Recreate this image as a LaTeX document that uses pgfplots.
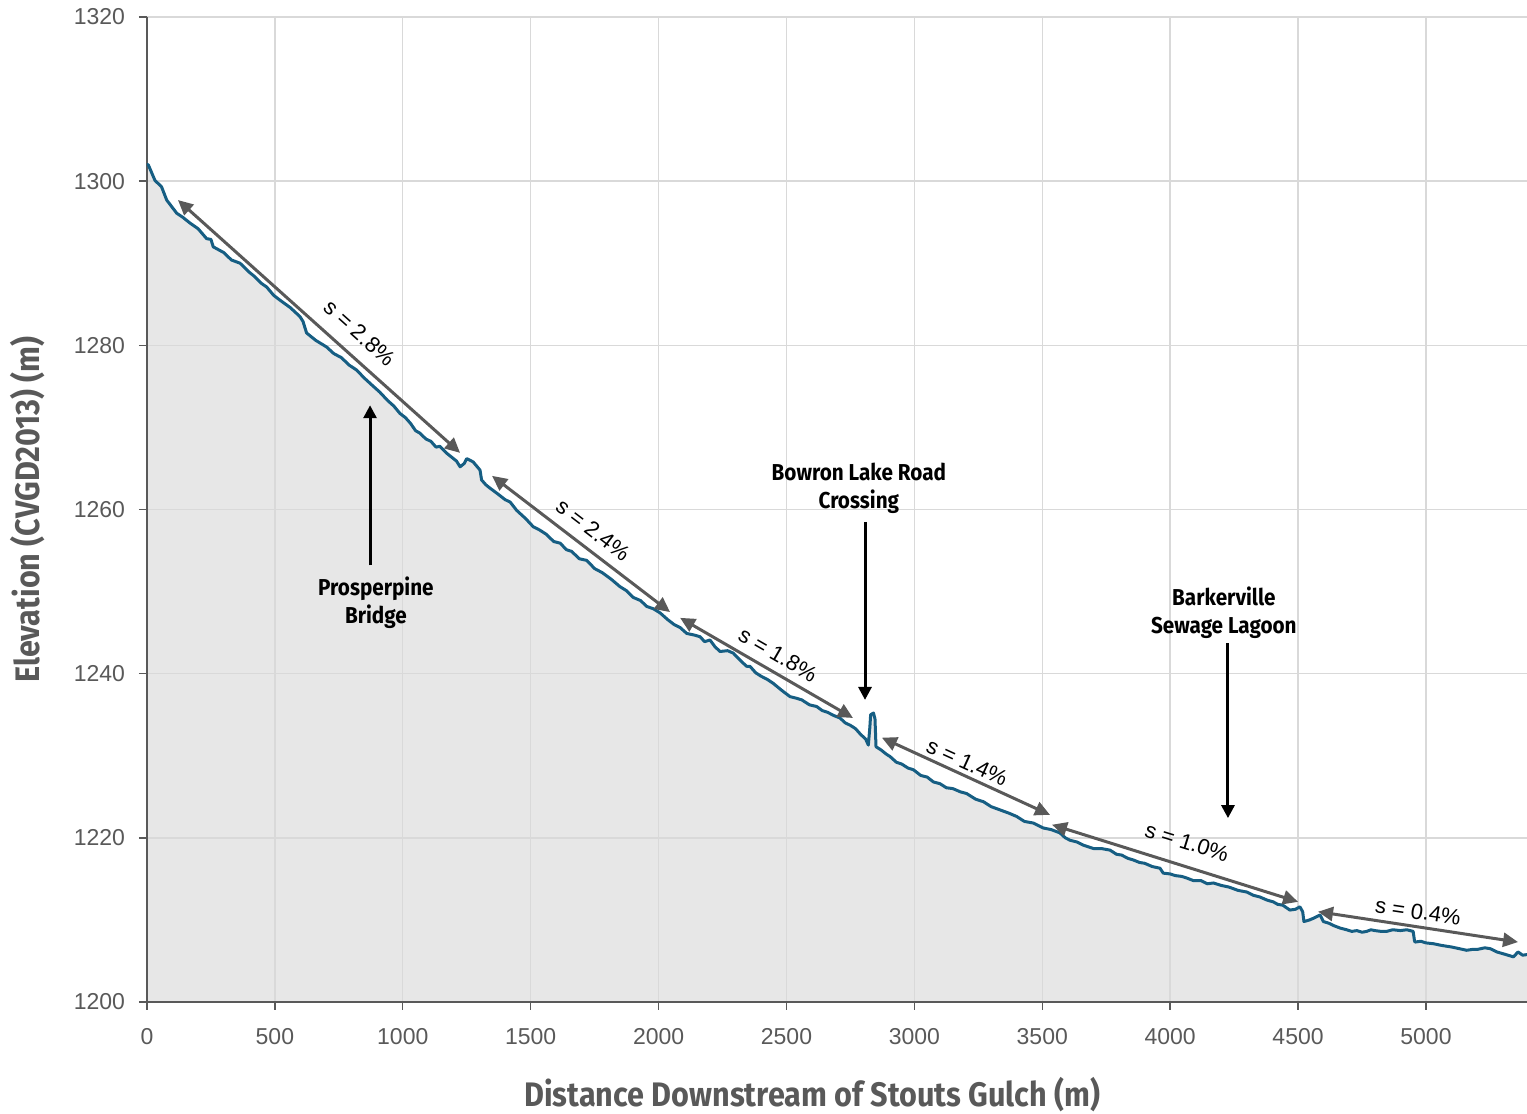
\documentclass[border=0pt]{standalone}
\usepackage{fontspec}
\setmainfont{Liberation Sans}
\newfontfamily\labfont[FakeStretch=0.9]{Fira Sans}
\usepackage{pgfplots}
\usepackage{pgfplotstable}
\pgfplotsset{compat=1.18}
\usetikzlibrary{arrows.meta}
\definecolor{profile}{RGB}{22,94,131}
\definecolor{fillg}{RGB}{231,231,231}
\definecolor{gridg}{RGB}{217,217,217}
\definecolor{txtg}{RGB}{89,89,89}
\definecolor{arrg}{RGB}{89,89,89}

\pgfplotstableread{
x y
0 1302.0
5 1302.0
31 1300.1
57 1299.3
77 1297.7
116 1296.1
140 1295.6
168 1294.9
200 1294.2
233 1293.0
250 1292.9
259 1292.0
300 1291.3
330 1290.4
364 1290.0
400 1288.9
420 1288.4
445 1287.6
468 1287.1
495 1286.1
520 1285.5
560 1284.6
598 1283.5
610 1282.9
624 1281.5
660 1280.6
702 1279.8
730 1279.0
760 1278.5
790 1277.6
819 1277.0
850 1276.0
885 1275.0
910 1274.3
940 1273.3
965 1272.6
989 1271.7
1010 1271.2
1030 1270.5
1050 1269.6
1067 1269.3
1090 1268.6
1110 1268.3
1130 1267.6
1145 1267.7
1170 1266.9
1190 1266.4
1210 1265.9
1224 1265.2
1240 1265.6
1250 1266.2
1275 1265.8
1302 1264.8
1308 1263.6
1325 1263.0
1341 1262.6
1367 1262.0
1400 1261.2
1420 1260.9
1445 1259.9
1480 1258.9
1510 1257.9
1535 1257.5
1560 1257.0
1590 1256.1
1615 1255.9
1640 1255.1
1660 1254.9
1690 1254.0
1719 1253.8
1750 1252.8
1780 1252.3
1815 1251.5
1849 1250.6
1875 1250.1
1900 1249.3
1930 1248.9
1953 1248.2
1980 1247.9
2006 1247.4
2035 1246.6
2060 1246.0
2085 1245.6
2110 1244.9
2140 1244.7
2162 1244.5
2180 1243.9
2201 1244.1
2220 1243.3
2240 1242.7
2270 1242.8
2292 1242.5
2320 1241.6
2344 1240.9
2357 1240.9
2380 1240.1
2400 1239.7
2425 1239.3
2449 1238.8
2480 1238.0
2514 1237.2
2540 1237.0
2560 1236.8
2590 1236.2
2618 1236.0
2640 1235.5
2660 1235.3
2685 1234.9
2709 1234.6
2730 1234.0
2750 1233.7
2770 1233.3
2787 1232.7
2810 1232.0
2820 1231.3
2826 1233.5
2829 1235.0
2840 1235.2
2846 1234.5
2850 1231.1
2870 1230.7
2890 1230.2
2905 1229.9
2930 1229.2
2950 1229.0
2975 1228.5
2996 1228.3
3025 1227.6
3050 1227.4
3075 1226.8
3100 1226.6
3125 1226.1
3150 1226.0
3180 1225.6
3204 1225.4
3240 1224.7
3270 1224.4
3300 1223.8
3335 1223.4
3370 1223.0
3400 1222.6
3430 1222.0
3465 1221.8
3504 1221.2
3535 1221.0
3569 1220.6
3590 1220.0
3609 1219.7
3635 1219.5
3661 1219.1
3700 1218.7
3730 1218.7
3765 1218.5
3790 1218.0
3810 1217.9
3835 1217.5
3856 1217.3
3880 1217.0
3900 1216.9
3930 1216.5
3960 1216.3
3973 1215.7
4000 1215.6
4020 1215.4
4045 1215.3
4065 1215.1
4090 1214.8
4120 1214.8
4145 1214.4
4169 1214.5
4200 1214.2
4230 1214.0
4265 1213.6
4299 1213.4
4325 1213.0
4350 1212.8
4380 1212.4
4403 1212.2
4420 1211.9
4440 1211.8
4468 1211.2
4490 1211.3
4507 1211.6
4518 1211.0
4523 1209.8
4545 1210.0
4560 1210.2
4586 1210.6
4599 1209.8
4620 1209.6
4640 1209.3
4665 1209.0
4690 1208.8
4710 1208.6
4730 1208.7
4750 1208.5
4768 1208.6
4785 1208.8
4800 1208.7
4825 1208.6
4846 1208.6
4870 1208.8
4900 1208.7
4925 1208.8
4950 1208.6
4955 1207.5
4957 1207.3
4980 1207.4
5000 1207.2
5029 1207.1
5060 1206.9
5100 1206.7
5130 1206.5
5159 1206.3
5180 1206.4
5200 1206.4
5230 1206.6
5251 1206.5
5277 1206.1
5310 1205.8
5342 1205.5
5360 1206.1
5378 1205.7
5400 1205.8
}\profiletab

\begin{document}
\begin{tikzpicture}
\begin{axis}[name=ax, set layers,
  scale only axis, width=690pt, height=492.5pt,
  xmin=0, xmax=5395, ymin=1200, ymax=1320,
  xtick={0,500,...,5000}, ytick={1200,1220,...,1320},
  grid=major, major grid style={gridg, line width=0.7pt},
  axis lines*=left, axis line style={txtg, line width=0.9pt},
  tick align=outside, major tick length=4pt, tick style={txtg, line width=0.7pt},
  /pgf/number format/assume math mode=true, /pgf/number format/1000 sep={},
  ticklabel style={font=\fontsize{11.5}{13}\selectfont, text=txtg},
  xticklabel style={yshift=-5.5pt},
  yticklabel style={xshift=-3.5pt},
  xlabel={Distance Downstream of Stouts Gulch (m)},
  ylabel={Elevation (CVGD2013) (m)},
  label style={font=\labfont\bfseries\fontsize{17}{20}\selectfont, text=txtg},
  xlabel style={at={(axis description cs:0.482,-0.0944)}, anchor=center},
  ylabel style={at={(axis description cs:-0.0862,0.5)}, anchor=center},
]
\addplot[on layer=axis background, fill=fillg, draw=none] table[x=x,y=y] {\profiletab} \closedcycle;
\addplot[profile, line width=1.5pt, line join=round] table[x=x,y=y] {\profiletab};

% slope arrows
\begin{scope}[arrg, line width=1.5pt, {Triangle[length=7.5pt,width=7pt]}-{Triangle[length=7.5pt,width=7pt]}]
\draw (axis cs:121,1297.7) -- (axis cs:1224,1266.9);
\draw (axis cs:1349,1264.1) -- (axis cs:2045,1247.5);
\draw (axis cs:2084,1246.8) -- (axis cs:2760,1234.6);
\draw (axis cs:2873,1232.2) -- (axis cs:3530,1222.8);
\draw (axis cs:3538,1221.6) -- (axis cs:4500,1212.2);
\draw (axis cs:4578,1211.0) -- (axis cs:5360,1207.3);
\end{scope}
\begin{scope}[every node/.style={font=\fontsize{11}{13}\selectfont, text=black}]
\node[rotate=-41.9] at (axis cs:833,1281.5) {s = 2.8\%};
\node[rotate=-37.4] at (axis cs:1744,1257.5) {s = 2.4\%};
\node[rotate=-30] at (axis cs:2467,1242.3) {s = 1.8\%};
\node[rotate=-24.6] at (axis cs:3206,1229.2) {s = 1.4\%};
\node[rotate=-17.4] at (axis cs:4066,1219.5) {s = 1.0\%};
\node[rotate=-8.5] at (axis cs:4969,1211.0) {s = 0.4\%};
\end{scope}

% location arrows
\begin{scope}[black, line width=1.5pt, -{Triangle[length=6.5pt,width=6.5pt]}]
\draw (axis cs:872,1253.2) -- (axis cs:872,1272.7);
\draw (axis cs:2807,1258.5) -- (axis cs:2807,1236.8);
\draw (axis cs:4226,1243.7) -- (axis cs:4226,1222.4);
\end{scope}
\begin{scope}[every node/.style={font=\labfont\bfseries\fontsize{11.5}{14}\selectfont, text=black, align=center}]
\node at (axis cs:895,1248.6) {Prosperpine\\Bridge};
\node at (axis cs:2783,1262.6) {Bowron Lake Road\\Crossing};
\node at (axis cs:4210,1247.4) {Barkerville\\Sewage Lagoon};
\end{scope}
\end{axis}
\pgfresetboundingbox
\path ([shift={(-73.5pt,-56pt)}]ax.south west) rectangle ([shift={(0pt,8.5pt)}]ax.north east);
\end{tikzpicture}
\end{document}
